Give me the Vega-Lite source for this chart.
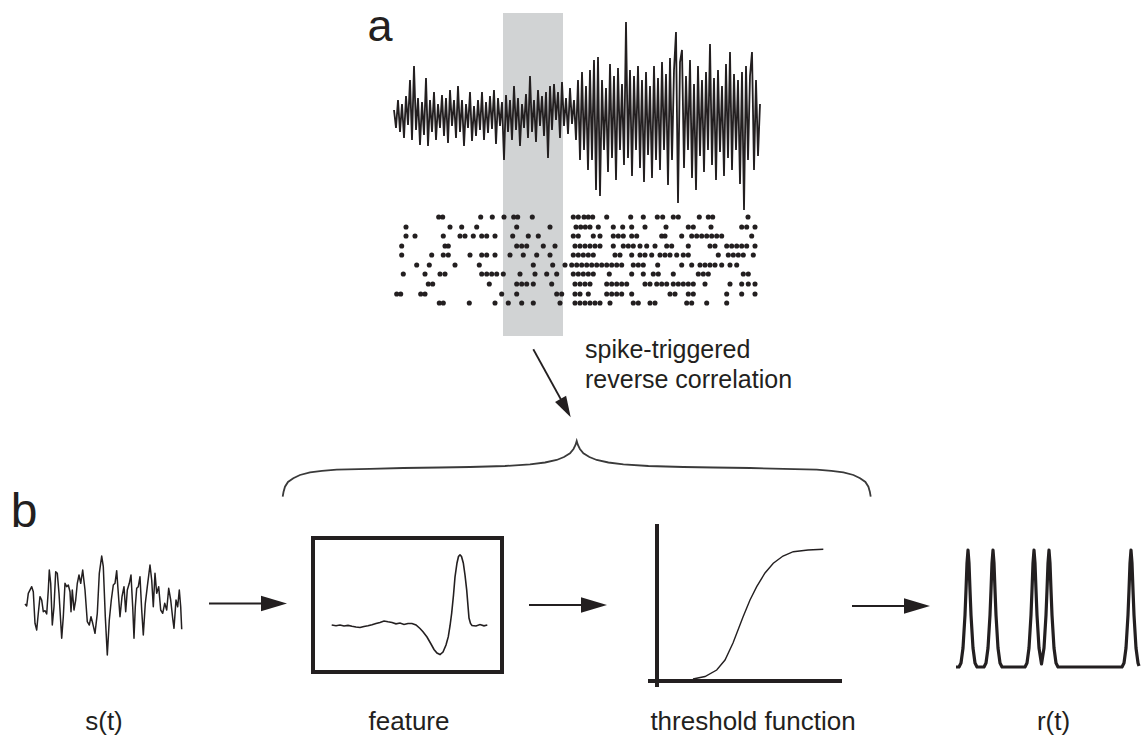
{
"$schema": "https://vega.github.io/schema/vega-lite/v6.json",
"width": 1143, "height": 736, "padding": 0,
"autosize": {"type": "fit", "contains": "padding"},
"background": "white",
"config": {"view": {"stroke": null}},
"datasets": {
"shade": [{"x": 503, "x2": 563, "y": 13, "y2": 336}],
"noise": [{"x":394,"y":110},{"x":396,"y":128},{"x":398,"y":100},{"x":400,"y":132},{"x":402,"y":104},{"x":404,"y":138},{"x":406,"y":96},{"x":408,"y":125},{"x":410,"y":80},{"x":412,"y":140},{"x":414,"y":66},{"x":416,"y":130},{"x":418,"y":98},{"x":420,"y":145},{"x":422,"y":102},{"x":424,"y":135},{"x":426,"y":78},{"x":428,"y":146},{"x":430,"y":100},{"x":432,"y":132},{"x":434,"y":92},{"x":436,"y":140},{"x":438,"y":104},{"x":440,"y":128},{"x":442,"y":95},{"x":444,"y":136},{"x":446,"y":98},{"x":448,"y":143},{"x":450,"y":90},{"x":452,"y":126},{"x":454,"y":100},{"x":456,"y":138},{"x":458,"y":86},{"x":460,"y":132},{"x":462,"y":100},{"x":464,"y":146},{"x":466,"y":104},{"x":468,"y":128},{"x":470,"y":92},{"x":472,"y":141},{"x":474,"y":106},{"x":476,"y":136},{"x":478,"y":100},{"x":480,"y":130},{"x":482,"y":92},{"x":484,"y":140},{"x":486,"y":102},{"x":488,"y":133},{"x":490,"y":96},{"x":492,"y":129},{"x":494,"y":90},{"x":496,"y":144},{"x":498,"y":98},{"x":500,"y":126},{"x":502,"y":102},{"x":504,"y":160},{"x":506,"y":95},{"x":508,"y":132},{"x":510,"y":100},{"x":512,"y":140},{"x":514,"y":86},{"x":516,"y":130},{"x":518,"y":98},{"x":520,"y":146},{"x":522,"y":104},{"x":524,"y":128},{"x":526,"y":94},{"x":528,"y":138},{"x":530,"y":76},{"x":532,"y":132},{"x":534,"y":100},{"x":536,"y":142},{"x":538,"y":90},{"x":540,"y":126},{"x":542,"y":96},{"x":544,"y":136},{"x":546,"y":92},{"x":548,"y":158},{"x":550,"y":86},{"x":552,"y":130},{"x":554,"y":84},{"x":556,"y":120},{"x":558,"y":92},{"x":560,"y":138},{"x":562,"y":82},{"x":564,"y":126},{"x":566,"y":98},{"x":568,"y":134},{"x":570,"y":88},{"x":572,"y":124},{"x":574,"y":100},{"x":576,"y":140},{"x":578,"y":80},{"x":580,"y":160},{"x":582,"y":72},{"x":584,"y":150},{"x":586,"y":86},{"x":588,"y":170},{"x":590,"y":70},{"x":592,"y":160},{"x":594,"y":60},{"x":596,"y":190},{"x":598,"y":57},{"x":600,"y":196},{"x":602,"y":80},{"x":604,"y":150},{"x":606,"y":88},{"x":608,"y":172},{"x":610,"y":64},{"x":612,"y":158},{"x":614,"y":76},{"x":616,"y":180},{"x":618,"y":68},{"x":620,"y":150},{"x":622,"y":84},{"x":624,"y":165},{"x":626,"y":22},{"x":628,"y":158},{"x":630,"y":70},{"x":632,"y":176},{"x":634,"y":76},{"x":636,"y":150},{"x":638,"y":66},{"x":640,"y":168},{"x":642,"y":80},{"x":644,"y":182},{"x":646,"y":72},{"x":648,"y":155},{"x":650,"y":86},{"x":652,"y":178},{"x":654,"y":66},{"x":656,"y":160},{"x":658,"y":78},{"x":660,"y":170},{"x":662,"y":62},{"x":664,"y":150},{"x":666,"y":74},{"x":668,"y":185},{"x":670,"y":58},{"x":672,"y":160},{"x":674,"y":70},{"x":676,"y":32},{"x":678,"y":203},{"x":680,"y":62},{"x":682,"y":50},{"x":684,"y":168},{"x":686,"y":76},{"x":688,"y":150},{"x":690,"y":60},{"x":692,"y":178},{"x":694,"y":84},{"x":696,"y":190},{"x":698,"y":66},{"x":700,"y":156},{"x":702,"y":80},{"x":704,"y":172},{"x":706,"y":72},{"x":708,"y":150},{"x":710,"y":44},{"x":712,"y":165},{"x":714,"y":78},{"x":716,"y":180},{"x":718,"y":70},{"x":720,"y":152},{"x":722,"y":86},{"x":724,"y":176},{"x":726,"y":64},{"x":728,"y":158},{"x":730,"y":52},{"x":732,"y":170},{"x":734,"y":74},{"x":736,"y":150},{"x":738,"y":80},{"x":740,"y":184},{"x":742,"y":72},{"x":744,"y":210},{"x":746,"y":66},{"x":748,"y":160},{"x":750,"y":76},{"x":752,"y":52},{"x":754,"y":170},{"x":756,"y":80},{"x":758,"y":156},{"x":760,"y":104}],
"dots": [
{"x":438.7,"y":217},{"x":442.7,"y":217},{"x":480.7,"y":217},{"x":492.3,"y":217},{"x":504,"y":217},{"x":513.7,"y":217},{"x":517.7,"y":217},{"x":532.3,"y":217},{"x":573.3,"y":217},{"x":578.3,"y":217},{"x":584,"y":217},{"x":588.3,"y":217},{"x":592.7,"y":217},{"x":606.7,"y":217},{"x":630.7,"y":217},{"x":643.3,"y":217},{"x":657.3,"y":217},{"x":662.7,"y":217},{"x":673.3,"y":217},{"x":678.3,"y":217},{"x":699.3,"y":217},{"x":708.3,"y":217},{"x":712.7,"y":217},{"x":748,"y":217},
{"x":406,"y":227},{"x":450,"y":227},{"x":461.7,"y":227},{"x":476.7,"y":227},{"x":516.7,"y":227},{"x":550,"y":227},{"x":576,"y":227},{"x":580.7,"y":227},{"x":585.3,"y":227},{"x":590,"y":227},{"x":598.3,"y":227},{"x":613.3,"y":227},{"x":622.7,"y":227},{"x":631.7,"y":227},{"x":645,"y":227},{"x":666,"y":227},{"x":688.3,"y":227},{"x":693.3,"y":227},{"x":711,"y":227},{"x":741.7,"y":227},{"x":746.7,"y":227},{"x":755,"y":227},
{"x":406,"y":236},{"x":415,"y":236},{"x":443.3,"y":236},{"x":460,"y":236},{"x":465,"y":236},{"x":473.3,"y":236},{"x":481.7,"y":236},{"x":486.7,"y":236},{"x":495,"y":236},{"x":512.7,"y":236},{"x":528.3,"y":236},{"x":538.3,"y":236},{"x":573.3,"y":236},{"x":578.3,"y":236},{"x":593.3,"y":236},{"x":600,"y":236},{"x":613.3,"y":236},{"x":618.3,"y":236},{"x":623.3,"y":236},{"x":631.7,"y":236},{"x":636.7,"y":236},{"x":661.7,"y":236},{"x":665,"y":236},{"x":681.7,"y":236},{"x":691.7,"y":236},{"x":696.7,"y":236},{"x":701.7,"y":236},{"x":706.7,"y":236},{"x":711.7,"y":236},{"x":716.7,"y":236},{"x":721.7,"y":236},{"x":751.7,"y":236},
{"x":401.7,"y":246},{"x":445,"y":246},{"x":448.3,"y":246},{"x":516.7,"y":246},{"x":521.7,"y":246},{"x":526.7,"y":246},{"x":543.3,"y":246},{"x":555,"y":246},{"x":575,"y":246},{"x":580,"y":246},{"x":585,"y":246},{"x":590,"y":246},{"x":595,"y":246},{"x":600,"y":246},{"x":613.3,"y":246},{"x":623.3,"y":246},{"x":628.3,"y":246},{"x":633.3,"y":246},{"x":640,"y":246},{"x":646.7,"y":246},{"x":655,"y":246},{"x":666.7,"y":246},{"x":671.7,"y":246},{"x":688.3,"y":246},{"x":710,"y":246},{"x":715,"y":246},{"x":726.7,"y":246},{"x":731.7,"y":246},{"x":736.7,"y":246},{"x":741.7,"y":246},{"x":746.7,"y":246},{"x":755,"y":246},
{"x":401.7,"y":255},{"x":431.7,"y":255},{"x":443.3,"y":255},{"x":448.3,"y":255},{"x":470,"y":255},{"x":481.7,"y":255},{"x":486.7,"y":255},{"x":495,"y":255},{"x":510,"y":255},{"x":523.3,"y":255},{"x":536.7,"y":255},{"x":550,"y":255},{"x":573.3,"y":255},{"x":578.3,"y":255},{"x":583.3,"y":255},{"x":588.3,"y":255},{"x":593.3,"y":255},{"x":615,"y":255},{"x":620,"y":255},{"x":631.7,"y":255},{"x":640,"y":255},{"x":645,"y":255},{"x":651.7,"y":255},{"x":660,"y":255},{"x":665,"y":255},{"x":670,"y":255},{"x":676.7,"y":255},{"x":683.3,"y":255},{"x":688.3,"y":255},{"x":718.3,"y":255},{"x":728.3,"y":255},{"x":733.3,"y":255},{"x":738.3,"y":255},{"x":743.3,"y":255},{"x":753.3,"y":255},
{"x":416.7,"y":265},{"x":429.3,"y":265},{"x":455,"y":265},{"x":479.3,"y":265},{"x":533.3,"y":265},{"x":552.7,"y":265},{"x":565,"y":265},{"x":571.7,"y":265},{"x":576.7,"y":265},{"x":581.7,"y":265},{"x":586.7,"y":265},{"x":591.7,"y":265},{"x":596.7,"y":265},{"x":601.7,"y":265},{"x":606.7,"y":265},{"x":611.7,"y":265},{"x":616.7,"y":265},{"x":621.7,"y":265},{"x":633.3,"y":265},{"x":638.3,"y":265},{"x":643.3,"y":265},{"x":657.7,"y":265},{"x":681.7,"y":265},{"x":691.7,"y":265},{"x":700,"y":265},{"x":705,"y":265},{"x":710,"y":265},{"x":715,"y":265},{"x":721.7,"y":265},{"x":730,"y":265},{"x":736.7,"y":265},
{"x":403.3,"y":274},{"x":425,"y":274},{"x":440,"y":274},{"x":445,"y":274},{"x":481.7,"y":274},{"x":486.7,"y":274},{"x":491.7,"y":274},{"x":496.7,"y":274},{"x":503.3,"y":274},{"x":520,"y":274},{"x":535,"y":274},{"x":546.7,"y":274},{"x":556.7,"y":274},{"x":573.3,"y":274},{"x":578.3,"y":274},{"x":583.3,"y":274},{"x":588.3,"y":274},{"x":593.3,"y":274},{"x":609.3,"y":274},{"x":631.7,"y":274},{"x":643.3,"y":274},{"x":653.3,"y":274},{"x":658.3,"y":274},{"x":673.3,"y":274},{"x":698.3,"y":274},{"x":703.3,"y":274},{"x":708.3,"y":274},{"x":743.3,"y":274},{"x":748.3,"y":274},
{"x":428.3,"y":284},{"x":432.7,"y":284},{"x":489.3,"y":284},{"x":516.7,"y":284},{"x":521.7,"y":284},{"x":526.7,"y":284},{"x":533.3,"y":284},{"x":551.7,"y":284},{"x":575,"y":284},{"x":580,"y":284},{"x":585,"y":284},{"x":590,"y":284},{"x":606.7,"y":284},{"x":611.7,"y":284},{"x":616.7,"y":284},{"x":621.7,"y":284},{"x":626.7,"y":284},{"x":645,"y":284},{"x":650,"y":284},{"x":656.7,"y":284},{"x":661.7,"y":284},{"x":666.7,"y":284},{"x":673.3,"y":284},{"x":678.3,"y":284},{"x":683.3,"y":284},{"x":688.3,"y":284},{"x":693.3,"y":284},{"x":705,"y":284},{"x":730,"y":284},{"x":741.7,"y":284},{"x":748.3,"y":284},{"x":755,"y":284},
{"x":396.7,"y":294},{"x":400.7,"y":294},{"x":420.7,"y":294},{"x":425,"y":294},{"x":501.7,"y":294},{"x":516.7,"y":294},{"x":556.7,"y":294},{"x":561.7,"y":294},{"x":575,"y":294},{"x":580,"y":294},{"x":588.3,"y":294},{"x":606.7,"y":294},{"x":611.7,"y":294},{"x":616.7,"y":294},{"x":621.7,"y":294},{"x":631.7,"y":294},{"x":670,"y":294},{"x":675,"y":294},{"x":688.3,"y":294},{"x":693.3,"y":294},{"x":726.7,"y":294},{"x":741.7,"y":294},{"x":755,"y":294},
{"x":439.3,"y":303},{"x":443.3,"y":303},{"x":469.3,"y":303},{"x":495,"y":303},{"x":508.3,"y":303},{"x":521.7,"y":303},{"x":533.3,"y":303},{"x":560,"y":303},{"x":575,"y":303},{"x":580,"y":303},{"x":585,"y":303},{"x":590,"y":303},{"x":595,"y":303},{"x":600,"y":303},{"x":610,"y":303},{"x":633.3,"y":303},{"x":638.3,"y":303},{"x":650,"y":303},{"x":655,"y":303},{"x":686.7,"y":303},{"x":691.7,"y":303},{"x":706.7,"y":303},{"x":726.7,"y":303}],
"arrows": [{"x":533.3,"y":349.3,"x2":564,"y2":405},{"x":209,"y":603.5,"x2":280,"y2":603.5},{"x":529,"y":605,"x2":600,"y2":605},{"x":852,"y":606,"x2":923,"y2":606}],
"headsRight": [{"x":287,"y":603.5},{"x":607,"y":605},{"x":930,"y":606}],
"headDiag": [{"x":570.7,"y":417.3}],
"brace": [{"x":282.7,"y":496.7},{"x":283.5,"y":492},{"x":285,"y":486.7},{"x":288,"y":482},{"x":293.3,"y":478.3},{"x":300,"y":475},{"x":310,"y":472.3},{"x":322,"y":470.8},{"x":336.7,"y":469.7},{"x":370,"y":468.8},{"x":403.3,"y":468},{"x":440,"y":467.5},{"x":470,"y":467},{"x":505,"y":466},{"x":530,"y":464.3},{"x":545,"y":462.5},{"x":556.7,"y":460},{"x":564,"y":457},{"x":570,"y":453.3},{"x":573.5,"y":449},{"x":575.5,"y":445},{"x":576.7,"y":441},{"x":577.9,"y":445},{"x":579.9,"y":449},{"x":583.4,"y":453.3},{"x":589.4,"y":457},{"x":596.7,"y":460},{"x":608.4,"y":462.5},{"x":623.4,"y":464.3},{"x":648.4,"y":466},{"x":683.4,"y":467},{"x":713.4,"y":467.5},{"x":750.1,"y":468},{"x":783.4,"y":468.8},{"x":816.7,"y":469.7},{"x":831.4,"y":470.8},{"x":843.4,"y":472.3},{"x":853.4,"y":475},{"x":860.1,"y":478.3},{"x":865.4,"y":482},{"x":868.4,"y":486.7},{"x":869.9,"y":492},{"x":870.7,"y":496.7}],
"strace": [{"x":25,"y":604},{"x":26.7,"y":606},{"x":28.3,"y":593.3},{"x":31.7,"y":586.7},{"x":33.3,"y":591.7},{"x":35,"y":623.3},{"x":36.7,"y":630},{"x":38.3,"y":613.3},{"x":40,"y":596.7},{"x":41.7,"y":600},{"x":43.3,"y":611.7},{"x":45,"y":610.7},{"x":46.7,"y":614},{"x":48.3,"y":590},{"x":49.3,"y":570},{"x":50.7,"y":583.3},{"x":52.3,"y":625},{"x":54,"y":606.7},{"x":55.7,"y":571.7},{"x":57.3,"y":573.3},{"x":59,"y":593.3},{"x":61.7,"y":638.3},{"x":63.3,"y":616.7},{"x":65,"y":583.3},{"x":66.7,"y":586.7},{"x":68.3,"y":585},{"x":70,"y":591.7},{"x":71,"y":611.7},{"x":72.3,"y":590},{"x":74,"y":610},{"x":75.7,"y":600},{"x":77.3,"y":583.3},{"x":79,"y":575},{"x":80.7,"y":583.3},{"x":82.7,"y":570},{"x":85,"y":590},{"x":87.3,"y":621.7},{"x":89.3,"y":625},{"x":91,"y":616.7},{"x":92.7,"y":623.3},{"x":95,"y":633.3},{"x":97.3,"y":613.3},{"x":99.3,"y":573.3},{"x":101.7,"y":556},{"x":103.3,"y":566.7},{"x":105.3,"y":616.7},{"x":107.3,"y":655},{"x":109.3,"y":620},{"x":111.3,"y":600},{"x":113.3,"y":585},{"x":115,"y":583.3},{"x":116.7,"y":570.7},{"x":118.3,"y":593.3},{"x":120,"y":616.7},{"x":122,"y":596.7},{"x":124,"y":586.7},{"x":125.7,"y":611.7},{"x":127.3,"y":590},{"x":129.3,"y":583.3},{"x":131,"y":575},{"x":132.7,"y":606.7},{"x":134,"y":638.3},{"x":135.3,"y":606.7},{"x":136.7,"y":588.3},{"x":138.3,"y":586.7},{"x":140,"y":576.7},{"x":141.7,"y":610},{"x":143.3,"y":635},{"x":145.3,"y":603.3},{"x":147.3,"y":586.7},{"x":150,"y":565},{"x":151.7,"y":580},{"x":153.3,"y":606.7},{"x":155,"y":573.3},{"x":156.7,"y":593.3},{"x":158.7,"y":586.7},{"x":160.7,"y":610},{"x":162.7,"y":613.3},{"x":164.7,"y":603.3},{"x":166.7,"y":610},{"x":168.7,"y":588.3},{"x":170.7,"y":600},{"x":172.7,"y":618.3},{"x":174,"y":628.3},{"x":176,"y":600},{"x":177.7,"y":606.7},{"x":179.3,"y":590},{"x":180.7,"y":606.7},{"x":181.7,"y":629.3}],
"box": [{"x":313,"x2":502,"y":538,"y2":672}],
"feature": [{"x":331.7,"y":625},{"x":336,"y":625.8},{"x":340,"y":625},{"x":344,"y":626},{"x":348,"y":625.4},{"x":352,"y":626.3},{"x":356,"y":627},{"x":360,"y":627.5},{"x":364,"y":626.5},{"x":368,"y":625.8},{"x":372,"y":624.8},{"x":376,"y":623.5},{"x":380,"y":622.5},{"x":384,"y":621},{"x":388,"y":621.8},{"x":392,"y":622.5},{"x":396,"y":623.8},{"x":400,"y":623},{"x":404,"y":624.5},{"x":408,"y":623.5},{"x":412,"y":623.5},{"x":416,"y":625},{"x":420,"y":628.5},{"x":423,"y":631.7},{"x":427,"y":637},{"x":431,"y":644},{"x":434,"y":649.5},{"x":437,"y":653},{"x":440,"y":654.5},{"x":443,"y":652},{"x":446,"y":645},{"x":448.3,"y":636.7},{"x":450,"y":626},{"x":451.7,"y":613},{"x":453.5,"y":595},{"x":455,"y":577},{"x":457,"y":563},{"x":458.5,"y":556.5},{"x":460,"y":555},{"x":461.5,"y":556.5},{"x":463.3,"y":563},{"x":465,"y":575},{"x":466.7,"y":590},{"x":468,"y":606},{"x":469,"y":618},{"x":470.5,"y":623.5},{"x":472,"y":625.5},{"x":476,"y":626},{"x":480,"y":624.5},{"x":484,"y":625.8},{"x":487.3,"y":625}],
"axesT": [{"x":657,"y":524,"x2":657,"y2":687},{"x":648,"y":681,"x2":842,"y2":681}],
"sigmoid": [{"x":693,"y":679},{"x":705,"y":676.5},{"x":716.7,"y":670},{"x":725,"y":660},{"x":733,"y":643},{"x":743,"y":617},{"x":750,"y":600},{"x":756.7,"y":586.7},{"x":765,"y":573},{"x":773.3,"y":563.3},{"x":783,"y":556},{"x":793.3,"y":551.7},{"x":808,"y":550},{"x":823.3,"y":549.3}],
"rt": [{"x":956,"y":667},{"x":959,"y":667},{"x":961,"y":663},{"x":963,"y":648},{"x":965,"y":615},{"x":966,"y":590},{"x":967,"y":563},{"x":968,"y":550},{"x":969,"y":563},{"x":970,"y":590},{"x":971,"y":615},{"x":973,"y":648},{"x":975,"y":663},{"x":977,"y":667},{"x":984,"y":667},{"x":986,"y":663},{"x":988,"y":648},{"x":990,"y":615},{"x":991,"y":590},{"x":992,"y":563},{"x":993,"y":550},{"x":994,"y":563},{"x":995,"y":590},{"x":996,"y":615},{"x":998,"y":648},{"x":1000,"y":663},{"x":1002,"y":667},{"x":1025,"y":667},{"x":1027,"y":663},{"x":1029,"y":648},{"x":1031,"y":615},{"x":1032,"y":590},{"x":1033,"y":563},{"x":1034,"y":550},{"x":1035,"y":563},{"x":1036,"y":590},{"x":1037,"y":615},{"x":1039,"y":648},{"x":1041.5,"y":664},{"x":1044,"y":648},{"x":1046,"y":615},{"x":1047,"y":590},{"x":1048,"y":563},{"x":1049,"y":550},{"x":1050,"y":563},{"x":1051,"y":590},{"x":1052,"y":615},{"x":1054,"y":648},{"x":1056,"y":663},{"x":1058,"y":667},{"x":1122,"y":667},{"x":1124,"y":663},{"x":1126,"y":648},{"x":1128,"y":615},{"x":1129,"y":590},{"x":1130,"y":563},{"x":1131,"y":550},{"x":1132,"y":563},{"x":1133,"y":590},{"x":1134,"y":615},{"x":1136,"y":648},{"x":1138,"y":663},{"x":1139,"y":666}],
"letterA": [{"x":380,"y":40.5,"label":"a"}],
"letterB": [{"x":24,"y":527,"label":"b"}],
"spikeText": [{"x":585,"y":358,"label":"spike-triggered"},{"x":585,"y":388,"label":"reverse correlation"}],
"labels": [{"x":104,"y":730,"label":"s(t)"},{"x":409,"y":730,"label":"feature"},{"x":753,"y":730,"label":"threshold function"},{"x":1053.5,"y":730,"label":"r(t)"}]
},
"encoding": {
"x": {"field": "x", "type": "quantitative", "scale": {"domain": [0, 1143], "nice": false, "zero": false}, "axis": null},
"y": {"field": "y", "type": "quantitative", "scale": {"domain": [0, 736], "nice": false, "zero": false, "reverse": true}, "axis": null}
},
"layer": [
{"data": {"name": "shade"}, "mark": {"type": "rect", "color": "#d1d3d4"}, "encoding": {"x2": {"field": "x2"}, "y2": {"field": "y2"}}},
{"data": {"name": "noise"}, "mark": {"type": "line", "color": "#231f20", "strokeWidth": 1.8}},
{"data": {"name": "dots"}, "mark": {"type": "point", "shape": "circle", "filled": true, "color": "#231f20", "opacity": 1, "size": 26}},
{"data": {"name": "arrows"}, "mark": {"type": "rule", "color": "#231f20", "strokeWidth": 1.8}, "encoding": {"x2": {"field": "x2"}, "y2": {"field": "y2"}}},
{"data": {"name": "headsRight"}, "mark": {"type": "point", "shape": "M0,0L-2,-0.6L-2,0.6Z", "filled": true, "color": "#231f20", "opacity": 1, "size": 676, "angle": 0}},
{"data": {"name": "headDiag"}, "mark": {"type": "point", "shape": "M0,0L-2,-0.6L-2,0.6Z", "filled": true, "color": "#231f20", "opacity": 1, "size": 441, "angle": 61.2}},
{"data": {"name": "brace"}, "mark": {"type": "line", "color": "#3a3a3a", "strokeWidth": 1.8}},
{"data": {"name": "strace"}, "mark": {"type": "line", "color": "#231f20", "strokeWidth": 1.5, "strokeJoin": "round"}},
{"data": {"name": "box"}, "mark": {"type": "rect", "filled": false, "color": "#231f20", "strokeWidth": 4}, "encoding": {"x2": {"field": "x2"}, "y2": {"field": "y2"}}},
{"data": {"name": "feature"}, "mark": {"type": "line", "color": "#231f20", "strokeWidth": 1.6}},
{"data": {"name": "axesT"}, "mark": {"type": "rule", "color": "#231f20", "strokeWidth": 4}, "encoding": {"x2": {"field": "x2"}, "y2": {"field": "y2"}}},
{"data": {"name": "sigmoid"}, "mark": {"type": "line", "color": "#231f20", "strokeWidth": 1.4}},
{"data": {"name": "rt"}, "mark": {"type": "line", "color": "#231f20", "strokeWidth": 3.2, "strokeJoin": "round"}},
{"data": {"name": "letterA"}, "mark": {"type": "text", "font": "Liberation Sans", "fontSize": 45, "align": "center", "baseline": "alphabetic", "color": "#231f20"}, "encoding": {"text": {"field": "label"}}},
{"data": {"name": "letterB"}, "mark": {"type": "text", "font": "Liberation Sans", "fontSize": 48, "align": "center", "baseline": "alphabetic", "color": "#231f20"}, "encoding": {"text": {"field": "label"}}},
{"data": {"name": "spikeText"}, "mark": {"type": "text", "font": "Liberation Sans", "fontSize": 25, "align": "left", "baseline": "alphabetic", "color": "#231f20"}, "encoding": {"text": {"field": "label"}}},
{"data": {"name": "labels"}, "mark": {"type": "text", "font": "Liberation Sans", "fontSize": 26, "align": "center", "baseline": "alphabetic", "color": "#231f20"}, "encoding": {"text": {"field": "label"}}}
]
}
